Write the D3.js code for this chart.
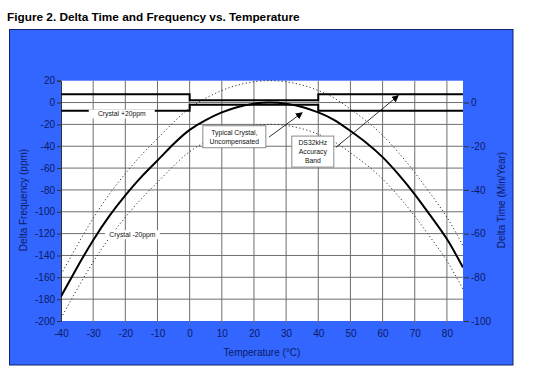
<!DOCTYPE html>
<html><head><meta charset="utf-8">
<script src="https://cdn.jsdelivr.net/npm/d3@7"></script>
<style>body{margin:0;background:#fff;} text{font-family:Arial,"Liberation Sans",sans-serif;}</style>
</head><body><svg id="c" width="540" height="392"></svg>
<script>
// ---- data ----
const temps = [-40,-35,-30,-25,-20,-15,-10,-5,0,5,10,15,20,25,30,35,40,45,50,55,60,65,70,75,80,85];
const typical = [-177.5,-151,-126,-104,-85,-68,-53,-38,-25,-16,-9,-4,-1,0,-1,-4,-9,-16,-26,-37,-50,-66,-84,-104,-125,-151];
const crystalPlus = [-157.5,-131,-106,-84,-65,-48,-33,-18,-5,4,11,16,19,20,19,16,11,4,-6,-17,-30,-46,-64,-84,-105,-131];
const crystalMinus = [-197.5,-171,-146,-124,-105,-88,-73,-58,-45,-36,-29,-24,-21,-20,-21,-24,-29,-36,-46,-57,-70,-86,-104,-124,-145,-171];
const bandTemps = [-40,0,0,40,40,85];
const bandUpper = [7.5,7.5,2,2,7.5,7.5];
const bandLower = [-7.5,-7.5,-2,-2,-7.5,-7.5];
const xTicks = [-40,-30,-20,-10,0,10,20,30,40,50,60,70,80];
const yTicks = [20,0,-20,-40,-60,-80,-100,-120,-140,-160,-180,-200];
const y2Ticks = [0,-20,-40,-60,-80,-100];

const title = "Figure 2. Delta Time and Frequency vs. Temperature";
const navy = "#0c1a66";
const ff = "Arial, 'Liberation Sans', sans-serif";

const svg = d3.select("#c");
const L = 61, R = 463, T = 80.7, B = 321;
const x = d3.scaleLinear().domain([-40,85]).range([L,R]);
const y = d3.scaleLinear().domain([20,-200]).range([T,B]);
const y2 = d3.scaleLinear().domain([10,-100]).range([T,B]);
const fmt = d => String(d);

svg.append("text").attr("x",7).attr("y",21).attr("font-size",11.8).attr("font-weight","bold").attr("fill","#000").text(title);

// blue panel
svg.append("rect").attr("x",9.5).attr("y",29.5).attr("width",503.5).attr("height",335.5)
  .attr("fill","#3366ff").attr("stroke","#12216b").attr("stroke-width",1);
svg.append("rect").attr("x",L).attr("y",T).attr("width",R-L).attr("height",B-T).attr("fill","#fff");

// grid
const g = svg.append("g");
g.selectAll(".vg").data(xTicks.filter(d=>d>-40)).join("line")
  .attr("x1",d=>x(d)).attr("x2",d=>x(d)).attr("y1",T).attr("y2",B+3)
  .attr("stroke","#6e6e6e").attr("stroke-width",1);
g.selectAll(".hg").data(yTicks.filter(d=>d<20 && d>-200)).join("line")
  .attr("x1",L).attr("x2",R).attr("y1",d=>y(d)).attr("y2",d=>y(d))
  .attr("stroke","#6e6e6e").attr("stroke-width",1);

// axes
const ax = svg.append("g").attr("transform",`translate(${L},0)`)
  .call(d3.axisLeft(y).tickValues(yTicks).tickFormat(fmt).tickSize(4).tickPadding(2));
ax.select(".domain").attr("stroke","#333");
ax.selectAll("line").attr("stroke","#333");
ax.selectAll("text").attr("font-size",10).attr("fill",navy).attr("font-family",ff);

const ax2 = svg.append("g").attr("transform",`translate(${R},0)`)
  .call(d3.axisRight(y2).tickValues(y2Ticks).tickFormat(fmt).tickSize(5).tickPadding(3));
ax2.select(".domain").remove();
ax2.selectAll("line").attr("stroke","#333").attr("transform","translate(1,0)");
ax2.selectAll("text").attr("font-size",10).attr("fill",navy).attr("font-family",ff);

const axb = svg.append("g").attr("transform",`translate(0,${B})`)
  .call(d3.axisBottom(x).tickValues(xTicks).tickFormat(fmt).tickSize(0).tickPadding(9));
axb.select(".domain").remove();
axb.selectAll("text").attr("font-size",10).attr("fill",navy).attr("font-family",ff);

// axis titles
svg.append("text").attr("x",262).attr("y",356).attr("text-anchor","middle").attr("font-size",10).attr("fill",navy).text("Temperature (°C)");
svg.append("text").attr("transform","translate(27,200) rotate(-90)").attr("text-anchor","middle").attr("font-size",10).attr("fill",navy).text("Delta Frequency (ppm)");
svg.append("text").attr("transform","translate(505,200) rotate(-90)").attr("text-anchor","middle").attr("font-size",10).attr("fill",navy).text("Delta Time (Min/Year)");

// clip
svg.append("clipPath").attr("id","clip").append("rect").attr("x",L).attr("y",T-1).attr("width",R-L).attr("height",B-T+2);
const pg = svg.append("g").attr("clip-path","url(#clip)");

const line = vals => d3.line().x((d,i)=>x(temps[i])).y(d=>y(d)).curve(d3.curveNatural)(vals);
pg.append("path").attr("d",line(crystalPlus)).attr("fill","none").attr("stroke","#333").attr("stroke-width",1).attr("stroke-dasharray","1.2,2.4");
pg.append("path").attr("d",line(crystalMinus)).attr("fill","none").attr("stroke","#333").attr("stroke-width",1).attr("stroke-dasharray","1.2,2.4");
pg.append("path").attr("d",line(typical)).attr("fill","none").attr("stroke","#000").attr("stroke-width",2);

const bandLine = vals => d3.line().x((d,i)=>x(bandTemps[i])).y(d=>y(d))(vals);
pg.append("path").attr("d",bandLine(bandUpper)).attr("fill","none").attr("stroke","#000").attr("stroke-width",2);
pg.append("path").attr("d",bandLine(bandLower)).attr("fill","none").attr("stroke","#000").attr("stroke-width",2);

// labels
function label(cx, cy, lines, w, h, border){
  svg.append("rect").attr("x",cx-w/2).attr("y",cy-h/2).attr("width",w).attr("height",h)
    .attr("fill","#fff").attr("stroke",border?"#8a8a8a":"none").attr("stroke-width",1);
  const n = lines.length;
  lines.forEach((t,i)=>{
    svg.append("text").attr("x",cx).attr("y",cy+(i-(n-1)/2)*8.8+2.4).attr("text-anchor","middle")
      .attr("font-size",6.8).attr("fill","#111").text(t);
  });
}
label(x(-21.1), y(-10.5), ["Crystal +20ppm"], 66, 9, false);
label(x(-17.8), y(-121), ["Crystal -20ppm"], 55, 9, false);

// arrows
const defs = svg.append("defs");
defs.append("marker").attr("id","ah").attr("viewBox","0 0 10 10").attr("refX",9).attr("refY",5)
  .attr("markerWidth",7).attr("markerHeight",7).attr("orient","auto-start-reverse").attr("markerUnits","userSpaceOnUse")
  .append("path").attr("d","M0,0 L10,5 L0,10 z").attr("fill","#000");
svg.append("line").attr("x1",x(24.7)).attr("y1",y(-31.6)).attr("x2",x(35)).attr("y2",y(-9.3))
  .attr("stroke","#000").attr("stroke-width",0.8).attr("marker-end","url(#ah)");
svg.append("line").attr("x1",x(45.5)).attr("y1",y(-41)).attr("x2",x(64.9)).attr("y2",y(6.4))
  .attr("stroke","#000").attr("stroke-width",0.8).attr("marker-end","url(#ah)");

label(x(13.9), y(-31.3), ["Typical Crystal,","Uncompensated"], 63, 22, true);
label(x(38.3), y(-44.9), ["DS32kHz","Accuracy","Band"], 42, 31, true);
</script></body></html>
